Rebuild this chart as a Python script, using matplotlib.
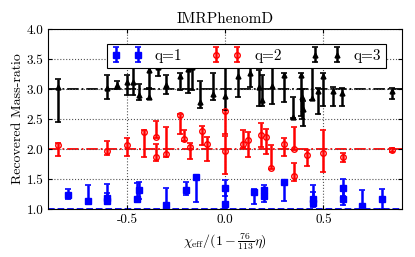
import numpy as np
import matplotlib
matplotlib.use('Agg')
import matplotlib.pyplot as plt

plt.rcParams['font.family'] = 'cmr10'
plt.rcParams['mathtext.fontset'] = 'cm'
plt.rcParams['axes.formatter.use_mathtext'] = True
plt.rcParams['axes.unicode_minus'] = True

# q=1 : x, value, upper bound, lower bound
x_q1 = [-0.80, -0.70, -0.60, -0.60, -0.45, -0.436, -0.30, -0.20, -0.149, 0.0, 0.0,
        0.149, 0.198, 0.198, 0.30, 0.449, 0.449, 0.598, 0.598, 0.698, 0.80]
y_q1 = [1.24, 1.13, 1.19, 1.14, 1.17, 1.31, 1.07, 1.31, 1.53, 1.35, 1.09,
        1.29, 1.31, 1.22, 1.45, 1.17, 1.10, 1.35, 1.16, 1.05, 1.16]
hi_q1 = [1.34, 1.40, 1.41, 1.27, 1.43, 1.45, 1.35, 1.45, 1.54, 1.48, 1.30,
         1.34, 1.40, 1.33, 1.48, 1.40, 1.28, 1.50, 1.30, 1.32, 1.34]
lo_q1 = [1.16, 1.08, 1.12, 1.09, 1.12, 1.17, 1.00, 1.23, 1.12, 1.22, 1.00,
         1.08, 1.19, 1.11, 1.13, 1.06, 1.04, 1.22, 1.06, 1.00, 1.00]

# q=2
x_q2 = [-0.85, -0.60, -0.50, -0.415, -0.35, -0.35, -0.30, -0.232, -0.21, -0.18, -0.119,
        -0.09, 0.0, 0.0, 0.093, 0.118, 0.183, 0.207, 0.234, 0.30, 0.35, 0.35,
        0.415, 0.497, 0.598, 0.847]
y_q2 = [2.06, 1.96, 2.07, 2.28, 2.20, 1.87, 1.91, 2.56, 2.17, 2.04, 2.30,
        2.09, 2.63, 1.97, 2.09, 2.15, 2.24, 2.20, 1.69, 2.09, 2.00, 1.55,
        1.90, 1.93, 1.86, 1.98]
hi_q2 = [2.10, 2.14, 2.19, 2.31, 2.47, 2.08, 2.37, 2.58, 2.32, 2.10, 2.38,
         2.20, 2.65, 2.22, 2.31, 2.28, 2.44, 2.33, 2.07, 2.19, 2.37, 1.77,
         1.99, 2.32, 1.93, 2.02]
lo_q2 = [1.88, 1.90, 1.88, 1.87, 2.18, 1.80, 1.87, 2.25, 2.13, 1.83, 2.07,
         1.80, 2.25, 1.59, 2.02, 1.86, 2.03, 1.92, 1.66, 1.88, 1.98, 1.46,
         1.71, 1.61, 1.79, 1.95]

# q=3
x_q3 = [-0.85, -0.60, -0.55, -0.50, -0.47, -0.44, -0.39, -0.39, -0.34, -0.30, -0.23,
        -0.19, -0.17, -0.127, -0.063, 0.0, 0.064, 0.127, 0.17, 0.19, 0.237, 0.30,
        0.344, 0.388, 0.392, 0.398, 0.444, 0.47, 0.50, 0.551, 0.593, 0.847]
y_q3 = [3.04, 3.02, 3.07, 3.11, 3.12, 2.90, 3.32, 2.86, 3.36, 3.06, 3.21,
        3.33, 3.36, 2.78, 2.91, 2.88, 3.22, 3.26, 3.04, 2.82, 3.05, 3.23,
        2.53, 3.23, 2.87, 2.66, 2.85, 2.96, 3.21, 2.97, 2.94, 2.96]
hi_q3 = [3.17, 3.23, 3.13, 3.23, 3.60, 3.08, 3.60, 3.00, 3.42, 3.23, 3.27,
         3.43, 3.42, 3.13, 3.26, 3.60, 3.37, 3.46, 3.32, 3.23, 3.35, 3.26,
         2.87, 3.27, 3.00, 2.80, 3.60, 3.01, 3.26, 3.03, 3.01, 3.02]
lo_q3 = [2.45, 2.83, 3.00, 2.90, 2.90, 2.82, 3.02, 2.83, 3.21, 2.91, 2.98,
         2.93, 2.98, 2.68, 2.82, 2.65, 2.87, 3.03, 2.72, 2.72, 2.75, 2.79,
         2.51, 2.55, 2.50, 2.38, 2.82, 2.59, 2.71, 2.71, 2.71, 2.83]


def err(y, hi, lo):
    y = np.array(y)
    return [y - np.array(lo), np.array(hi) - y]


fig = plt.figure(figsize=(4.15, 2.57), dpi=100)
ax = fig.add_axes([0.1164, 0.1868, 0.8523, 0.7004])

ax.axhline(3.0, color='k', ls='-.', lw=1.3, zorder=1)
ax.axhline(2.0, color='r', ls='-.', lw=1.3, zorder=1)
ax.axhline(1.0, color='b', ls='--', lw=1.3, zorder=1)

ax.errorbar(x_q1, y_q1, yerr=err(y_q1, hi_q1, lo_q1), fmt='s', color='b', mec='b',
            ms=4.5, elinewidth=1.8, capsize=2.5, capthick=1.2, label='q=1')
ax.errorbar(x_q2, y_q2, yerr=err(y_q2, hi_q2, lo_q2), fmt='o', color='r', mec='r',
            mfc='none', ms=4, elinewidth=1.8, capsize=2.5, capthick=1.2, label='q=2')
ax.errorbar(x_q3, y_q3, yerr=err(y_q3, hi_q3, lo_q3), fmt='^', color='k', mec='k',
            ms=3.5, elinewidth=1.8, capsize=2.5, capthick=1.2, label='q=3')

ax.set_xlim(-0.9, 0.9)
ax.set_ylim(1.0, 4.0)
ax.set_xticks([-0.5, 0.0, 0.5])
ax.set_yticks(np.arange(1.0, 4.01, 0.5))
ax.xaxis.set_major_formatter(matplotlib.ticker.FormatStrFormatter('%.1f'))
ax.yaxis.set_major_formatter(matplotlib.ticker.FormatStrFormatter('%.1f'))
ax.tick_params(direction='in', top=True, right=True, labelsize=9.5, length=3)
ax.grid(True, ls=':', color='#555555', lw=0.8)

ax.set_title('IMRPhenomD', fontsize=11, pad=4)
ax.set_ylabel('Recovered Mass-ratio', fontsize=10, labelpad=2)
ax.set_xlabel(r'$\chi_{\rm eff}/(1-\frac{76}{113}\eta)$', fontsize=10)

leg = ax.legend(loc='upper left', bbox_to_anchor=(0.143, 0.806, 0.834, 0.155),
                mode='expand', ncol=3, numpoints=2, fontsize=11, fancybox=False,
                framealpha=1, edgecolor='k', handlelength=2.0, borderpad=0.35,
                handletextpad=0.8)
leg.get_frame().set_linewidth(0.8)

fig.savefig('out.png', dpi=100)
